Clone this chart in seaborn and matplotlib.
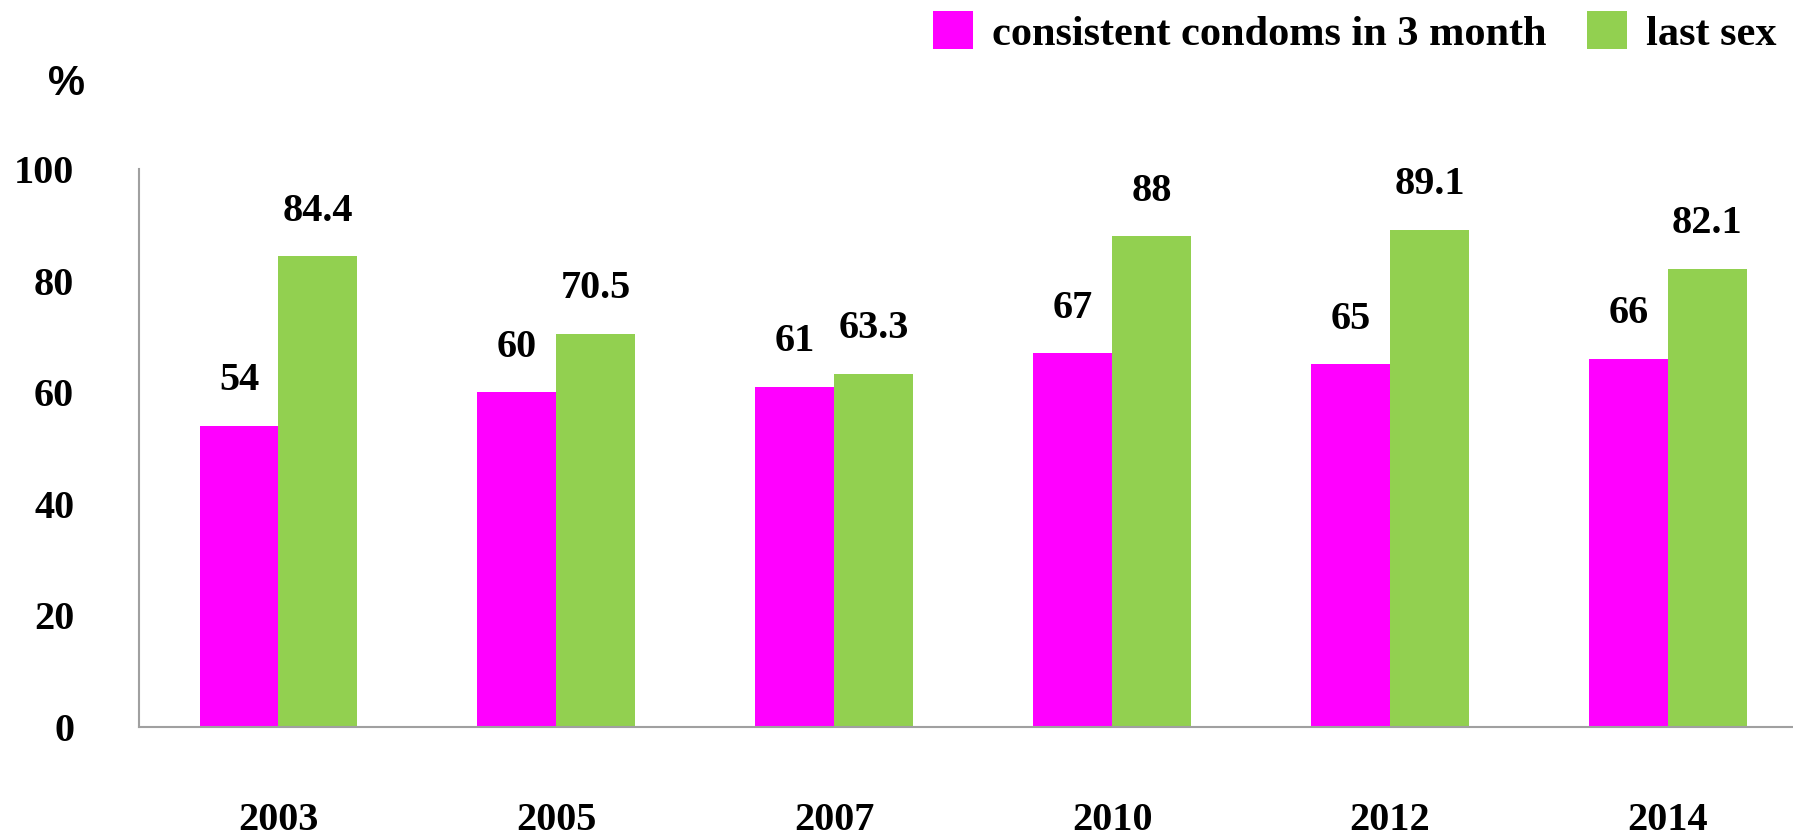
import pandas as pd
import seaborn as sns
import matplotlib.pyplot as plt
from matplotlib.patches import Patch

sns.set_style("white")
plt.rcParams['font.family'] = ['Liberation Serif', 'DejaVu Serif']
plt.rcParams['font.weight'] = 'bold'
plt.rcParams['text.color'] = 'black'
plt.rcParams['xtick.color'] = 'black'
plt.rcParams['ytick.color'] = 'black'

# ---------- Data ----------
years = ["2003", "2005", "2007", "2010", "2012", "2014"]
consistent = [54, 60, 61, 67, 65, 66]
last_sex = [84.4, 70.5, 63.3, 88, 89.1, 82.1]
series_names = ["consistent condoms in 3 month", "last sex"]
colors = ["#FF00FF", "#92D050"]
yticks = [0, 20, 40, 60, 80, 100]

df = pd.DataFrame({
    "year": years * 2,
    "value": consistent + last_sex,
    "series": [series_names[0]] * len(years) + [series_names[1]] * len(years),
})

# ---------- Plot ----------
fig = plt.figure(figsize=(17.93, 8.36), dpi=100)
ax = fig.add_axes([0.0778, 0.1304, 0.9222, 0.6675])

sns.barplot(data=df, x="year", y="value", hue="series", hue_order=series_names,
            palette=colors, width=0.568, saturation=1, linewidth=0,
            legend=False, ax=ax)

for cont in ax.containers:
    ax.bar_label(cont, labels=[f"{v:g}" for v in cont.datavalues],
                 padding=19, fontsize=29, fontweight='bold', color='black')

ax.set_xlim(-0.5, 5.45)
ax.set_ylim(0, 100)
ax.set_yticks(yticks)
ax.set_xlabel("")
ax.set_ylabel("")
ax.tick_params(axis='y', length=0, pad=47, labelsize=29, labelcolor='black')
ax.tick_params(axis='x', length=0, pad=54, labelsize=29, labelcolor='black')

for s in ["top", "right"]:
    ax.spines[s].set_visible(False)
for s in ["left", "bottom"]:
    ax.spines[s].set_color("#A0A0A0")
    ax.spines[s].set_linewidth(1.5)

fig.text(0.037, 0.90, "%", fontsize=30, fontweight='bold', color='black',
         family='Liberation Sans', ha='center', va='center')

handles = [Patch(facecolor=c, edgecolor='none', label=n) for c, n in zip(colors, series_names)]
leg = fig.legend(handles=handles, loc='upper right', bbox_to_anchor=(1.012, 1.032), ncol=2,
                 frameon=False, fontsize=30.5, handlelength=0.95, handleheight=0.98,
                 handletextpad=0.45, columnspacing=0.95)
for t in leg.get_texts():
    t.set_color('black')

fig.savefig("out.png", dpi=100)
